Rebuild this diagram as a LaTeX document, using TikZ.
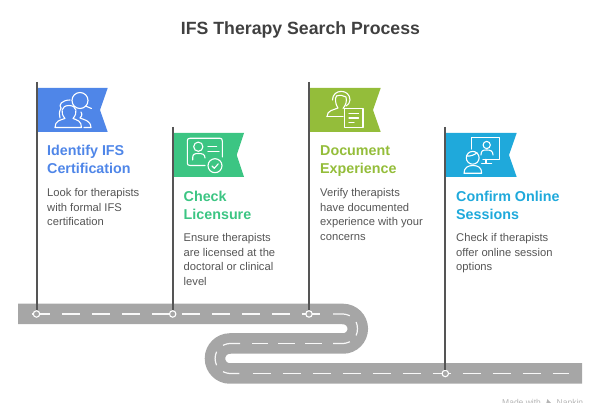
\documentclass[tikz,border=0pt]{standalone}
\usepackage{fontspec}
\setmainfont{Liberation Sans}
\definecolor{roadgray}{HTML}{A6A6A6}
\definecolor{polegray}{HTML}{555555}
\definecolor{titlegray}{HTML}{404040}
\definecolor{bodygray}{HTML}{555555}
\definecolor{markgray}{HTML}{B5B5B5}
\definecolor{blueflag}{HTML}{4F86E8}
\definecolor{greenflag}{HTML}{3CC583}
\definecolor{oliveflag}{HTML}{94BD3A}
\definecolor{cyanflag}{HTML}{1FA9DB}
\tikzset{
  road/.style = {draw = roadgray, line width = 20.5pt},
  lane/.style = {draw = white!92!roadgray, line width = 1.2pt},
  longdash/.style = {dash pattern = on 18pt off 12pt},
  shortdash/.style = {dash pattern = on 16.5pt off 10.5pt},
  pole/.style = {draw = polegray, line width = 2pt},
  stopdot/.style = {circle, draw = white, fill = roadgray, line width = 1.1pt, minimum size = 6.4pt, inner sep = 0pt},
  icon/.style = {draw = white, line width = 1.1pt, line cap = round, line join = round},
  headtext/.style = {anchor = north west, inner sep = 0pt, align = left, font = \fontsize{14.3}{18}\selectfont\bfseries},
  bodytext/.style = {anchor = north west, inner sep = 0pt, align = left, text = bodygray, font = \fontsize{11.2}{14.4}\selectfont},
  marktext/.style = {anchor = base west, inner sep = 0pt, text = markgray, font = \fontsize{8.5}{10}\selectfont}
}
\begin{document}
\begin{tikzpicture}[x = 1pt, y = -1pt]
\useasboundingbox (0,0) rectangle (600,403);
\clip (0,0) rectangle (600,403);
\node[font = \fontsize{17.7}{22}\selectfont\bfseries, text = titlegray, inner sep = 0pt] (title) at (300.5,30) {IFS Therapy Search Process};
% road
\draw[road] (18,314) -- (343,314) arc (-90:90:14.75) -- (230,343.5) arc (270:90:15) -- (582,373.5);
\draw[lane, longdash] (31.7,314) -- (321.7,314);
\draw[lane] (333,314) -- (343,314) .. controls (345,314) and (347,314.6) .. (349.9,315.7);
\draw[lane] (356.14,322.05) .. controls (357.9,326) and (357.9,331.5) .. (356.14,335.45);
\draw[lane] (349.9,341.8) .. controls (347,342.9) and (345,343.5) .. (343,343.5) -- (333,343.5);
\draw[lane, shortdash] (321.7,343.5) -- (252,343.5);
\draw[lane] (240,343.5) -- (230,343.5) .. controls (228,343.5) and (226,344) .. (223,345.3);
\draw[lane] (216.6,351.7) .. controls (214.6,356) and (214.6,361) .. (216.6,365.3);
\draw[lane] (223,371.7) .. controls (226,373) and (228,373.5) .. (230,373.5) -- (239.3,373.5);
\draw[lane, longdash] (252.7,373.5) -- (569,373.5);
% flags
\fill[blueflag] (37,88) -- (107.7,88) -- (100,110) -- (107.7,132) -- (37,132) -- cycle;
\fill[greenflag] (173,133) -- (244,133) -- (236.7,155) -- (244,177) -- (173,177) -- cycle;
\fill[oliveflag] (309.5,88) -- (380.7,88) -- (373,110) -- (380.7,132) -- (309.5,132) -- cycle;
\fill[cyanflag] (445.5,133) -- (516.7,133) -- (509,155) -- (516.7,177) -- (445.5,177) -- cycle;
% poles
\coordinate (p1) at (36.5,82);
\coordinate (p2) at (172.7,127);
\coordinate (p3) at (309,82);
\coordinate (p4) at (445.3,127);
\node[stopdot] (s1) at (36.5,314) {};
\node[stopdot] (s2) at (172.7,314) {};
\node[stopdot] (s3) at (309,314) {};
\node[stopdot] (s4) at (445.3,373.5) {};
\draw[pole] (p1) -- (s1);
\draw[pole] (p2) -- (s2);
\draw[pole] (p3) -- (s3);
\draw[pole] (p4) -- (s4);
% icon 1
\draw[icon] (80,100.5) circle (8);
\draw[icon] (85.5,106) -- (91.5,108.5);
\draw[icon] (55,127.5) .. controls (55,121) and (60,120) .. (65,118.5) .. controls (60,113) and (61,105.5) .. (69,105.5) .. controls (77,105.5) and (78,113) .. (73,118.5) .. controls (77,120) and (81.5,121) .. (81.5,127.5) -- cycle;
\draw[icon] (61,108) .. controls (58,105) and (62,100) .. (70,100);
\draw[icon] (61,108) .. controls (59,112) and (59,115) .. (60,118);
\draw[icon] (81,112) .. controls (83,115) and (81,117) .. (80,118) .. controls (84,120) and (90.5,120) .. (91,127.5) -- (84,127.5);
% icon 2
\draw[icon] (205,165.5) -- (190,165.5) .. controls (188,165.5) and (187.3,164.5) .. (187.3,163) -- (187.3,141) .. controls (187.3,139) and (188,138.3) .. (190,138.3) -- (220,138.3) .. controls (221.5,138.3) and (222.3,139) .. (222.3,141) -- (222.3,157);
\draw[icon] (198.3,146.7) circle (4.6);
\draw[icon] (192.7,160) -- (192.7,157.5) .. controls (192.7,154) and (195,153.5) .. (198.5,153.5) .. controls (202,153.5) and (205,154) .. (205,158);
\draw[icon] (208,146.7) -- (216.7,146.7);
\draw[icon] (208,151.7) -- (219,151.7);
\draw[icon] (215,165.7) circle (7);
\draw[icon] (212,166) -- (214.3,168.3) -- (218.3,163.8);
% icon 3
\draw[icon] (327,116.7) .. controls (327,110) and (334,110) .. (338,108) .. controls (335,104) and (335,98) .. (336.5,96);
\draw[icon] (332.5,100) .. controls (332.5,88.5) and (350,88.5) .. (350,100) .. controls (350,103) and (348,105) .. (346,106);
\draw[icon] (336.5,96) .. controls (340,95) and (343,95) .. (346,97) .. controls (347,101) and (346,105) .. (343,108.5);
\draw[icon] (327,116.7) -- (343,116.7);
\draw[icon] (344.5,108.5) rectangle (363,127.3);
\draw[icon] (349,113.5) -- (358.5,113.5);
\draw[icon] (349,118) -- (358.5,118);
\draw[icon] (349,122.5) -- (354,122.5);
% icon 4
\draw[icon] (471.7,149) -- (471.7,137.5) -- (499.3,137.5) -- (499.3,159.3) -- (483,159.3);
\draw[icon] (486.7,145) circle (3.6);
\draw[icon] (481,155) .. controls (481,150.5) and (483,150) .. (486.7,150) .. controls (490,150) and (493,150.5) .. (493,155);
\draw[icon] (486,159.3) -- (486,163.5);
\draw[icon] (481.7,163.5) -- (491.7,163.5);
\draw[icon] (472.7,157.8) circle (6.4);
\draw[icon] (466.5,156) .. controls (470,156.5) and (475,155) .. (477,152.5);
\draw[icon] (464,173.3) .. controls (464,167.5) and (468,165.5) .. (473,165.5) .. controls (478,165.5) and (481.7,167.5) .. (481.7,173.3) -- cycle;
% text
\node[headtext, text = blueflag] (h1) at (47,145) {Identify IFS\\Certification};
\node[bodytext] (b1) at (47,188.5) {Look for therapists\\with formal IFS\\certification};
\node[headtext, text = greenflag] (h2) at (183.5,190.5) {Check\\Licensure};
\node[bodytext] (b2) at (183.5,233.5) {Ensure therapists\\are licensed at the\\doctoral or clinical\\level};
\node[headtext, text = oliveflag] (h3) at (320,145) {Document\\Experience};
\node[bodytext] (b3) at (320,188.5) {Verify therapists\\have documented\\experience with your\\concerns};
\node[headtext, text = cyanflag] (h4) at (456,190.5) {Confirm Online\\Sessions};
\node[bodytext] (b4) at (456,233.5) {Check if therapists\\offer online session\\options};
% mark
\node[marktext] (mark1) at (502,405.5) {Made with};
\fill[markgray] (546,404) -- (547.5,399) -- (549,401) -- (552,404) -- cycle;
\node[marktext] (mark2) at (556.5,405.5) {Napkin};
\end{tikzpicture}
\end{document}
